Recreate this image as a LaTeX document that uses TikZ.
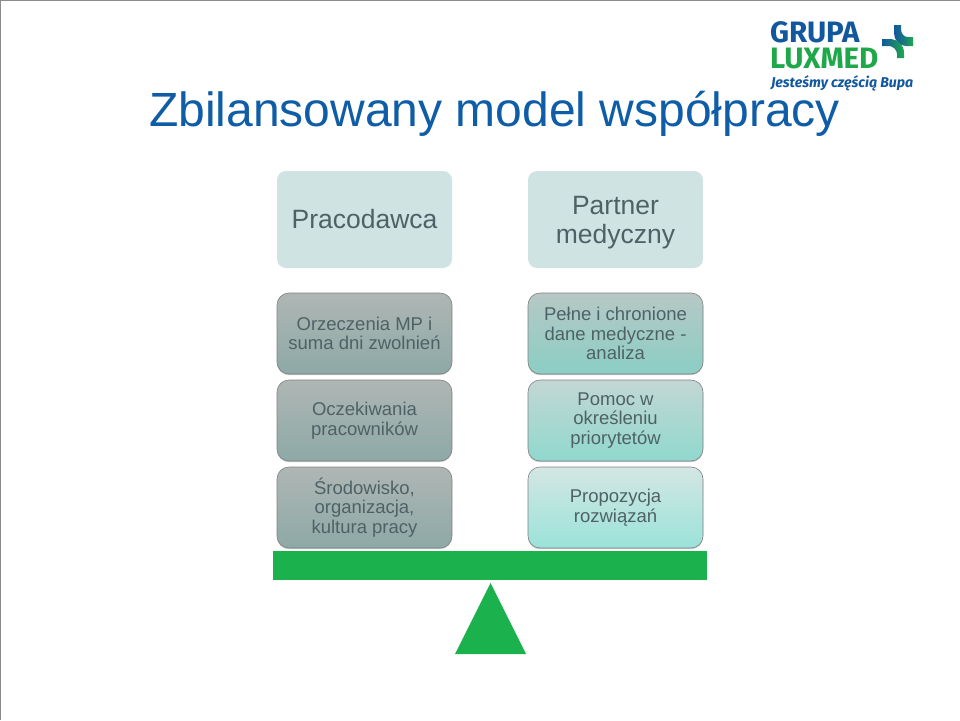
\documentclass[tikz,border=0pt]{standalone}
\usepackage{fontspec}
\setmainfont{Liberation Sans}
\newfontfamily\logofont{Fira Sans}
\usepackage{tikz}
\usetikzlibrary{positioning, shadows}
\definecolor{titleblue}{HTML}{0F5DA6}
\definecolor{boxtext}{HTML}{4E6266}
\definecolor{headfill}{HTML}{D0E3E3}
\definecolor{beamgreen}{HTML}{1BB14C}
\definecolor{logoblue}{HTML}{12589F}
\definecolor{logogreen}{HTML}{1FA84A}
\definecolor{framegray}{HTML}{8C8C8C}
\definecolor{lftTop}{HTML}{AFB6B4}
\definecolor{lftBot}{HTML}{8DA9A6}
\definecolor{rgtTopA}{HTML}{B6C8C5}
\definecolor{rgtBotA}{HTML}{8BCEC5}
\definecolor{rgtTopB}{HTML}{C3D7D4}
\definecolor{rgtBotB}{HTML}{90D8CE}
\definecolor{rgtTopC}{HTML}{D4E6E3}
\definecolor{rgtBotC}{HTML}{9AE3DA}

\begin{document}
\begin{tikzpicture}[x=1pt,y=-1pt,node distance=6pt and 76pt,
 every node/.style={inner sep=0pt,outer sep=0pt,text=boxtext,align=center},
 head/.style={rounded corners=9pt,fill=headfill,minimum width=175pt,minimum height=97pt,font=\fontsize{26.5}{29}\selectfont},
 itembox/.style={rounded corners=12pt,draw=black!50,line width=.6pt,minimum width=175pt,minimum height=81pt,
  drop shadow={shadow xshift=0pt,shadow yshift=-1.2pt,opacity=.35,fill=black!60},font=\fontsize{18.5}{19.5}\selectfont},
 lft/.style={itembox,top color=lftTop,bottom color=lftBot},
 logotxt/.style={text=#1,anchor=base west}]
 \useasboundingbox (0,0) rectangle (960,720);
 \fill[white] (0,0) rectangle (960,720);
 \draw[framegray,line width=1pt] (.5,720)--(.5,.5)--(960,.5);
 \node[text=titleblue,font=\fontsize{48}{48}\selectfont,anchor=base west] (title) at (149,126) {Zbilansowany model współpracy};
 \node[head] (prac) at (364.5,219.5) {Pracodawca};
 \node[head,right=of prac] (part) {\rule{0pt}{25pt}Partner\\medyczny};
 \node[lft,below=25pt of prac] (l1) {Orzeczenia MP i\\suma dni zwolnień};
 \node[lft,below=of l1] (l2) {Oczekiwania\\pracowników};
 \node[lft,below=of l2] (l3) {Środowisko,\\organizacja,\\kultura pracy};
 \node[itembox,top color=rgtTopA,bottom color=rgtBotA,below=25pt of part] (r1) {Pełne i chronione\\dane medyczne -\\analiza};
 \node[itembox,top color=rgtTopB,bottom color=rgtBotB,below=of r1] (r2) {Pomoc w\\określeniu\\priorytetów};
 \node[itembox,top color=rgtTopC,bottom color=rgtBotC,below=of r2] (r3) {Propozycja\\rozwiązań};
 \node[fill=beamgreen,minimum width=434pt,minimum height=29pt] (beam) at (490,565.5) {};
 \coordinate (apex) at (490.5,583);
 \fill[beamgreen] (apex)--(526,654)--(455,654)--cycle;
 % logo
 \node[logotxt=logoblue,font=\logofont\bfseries\fontsize{29.5}{29.5}\selectfont] (grupa) at (770,42.5) {GRUPA};
 \node[logotxt=logogreen,font=\logofont\bfseries\fontsize{29.5}{29.5}\selectfont] (luxmed) at (770,68) {LUXMED};
 \node[logotxt=logoblue,font=\logofont\bfseries\itshape\fontsize{14.2}{14}\selectfont] (motto) at (771,87) {Jesteśmy częścią Bupa};
 \shade[left color=logoblue,right color=logogreen,middle color=logoblue!60!logogreen]
  (894,25)--(901,25)--(901,29) .. controls (901,34) and (904,37) .. (908,37)--(913,37)--(913,46)--(906,46)
  .. controls (899,46) and (894,40) .. (894,33)--cycle;
 \shade[left color=logoblue,right color=logogreen]
  (882,39)--(889,39) .. controls (898,39) and (904,45) .. (904,53)--(904,58)--(897,58)--(897,54)
  .. controls (897,50) and (893,46) .. (889,46)--(882,46)--cycle;
\end{tikzpicture}
\end{document}
